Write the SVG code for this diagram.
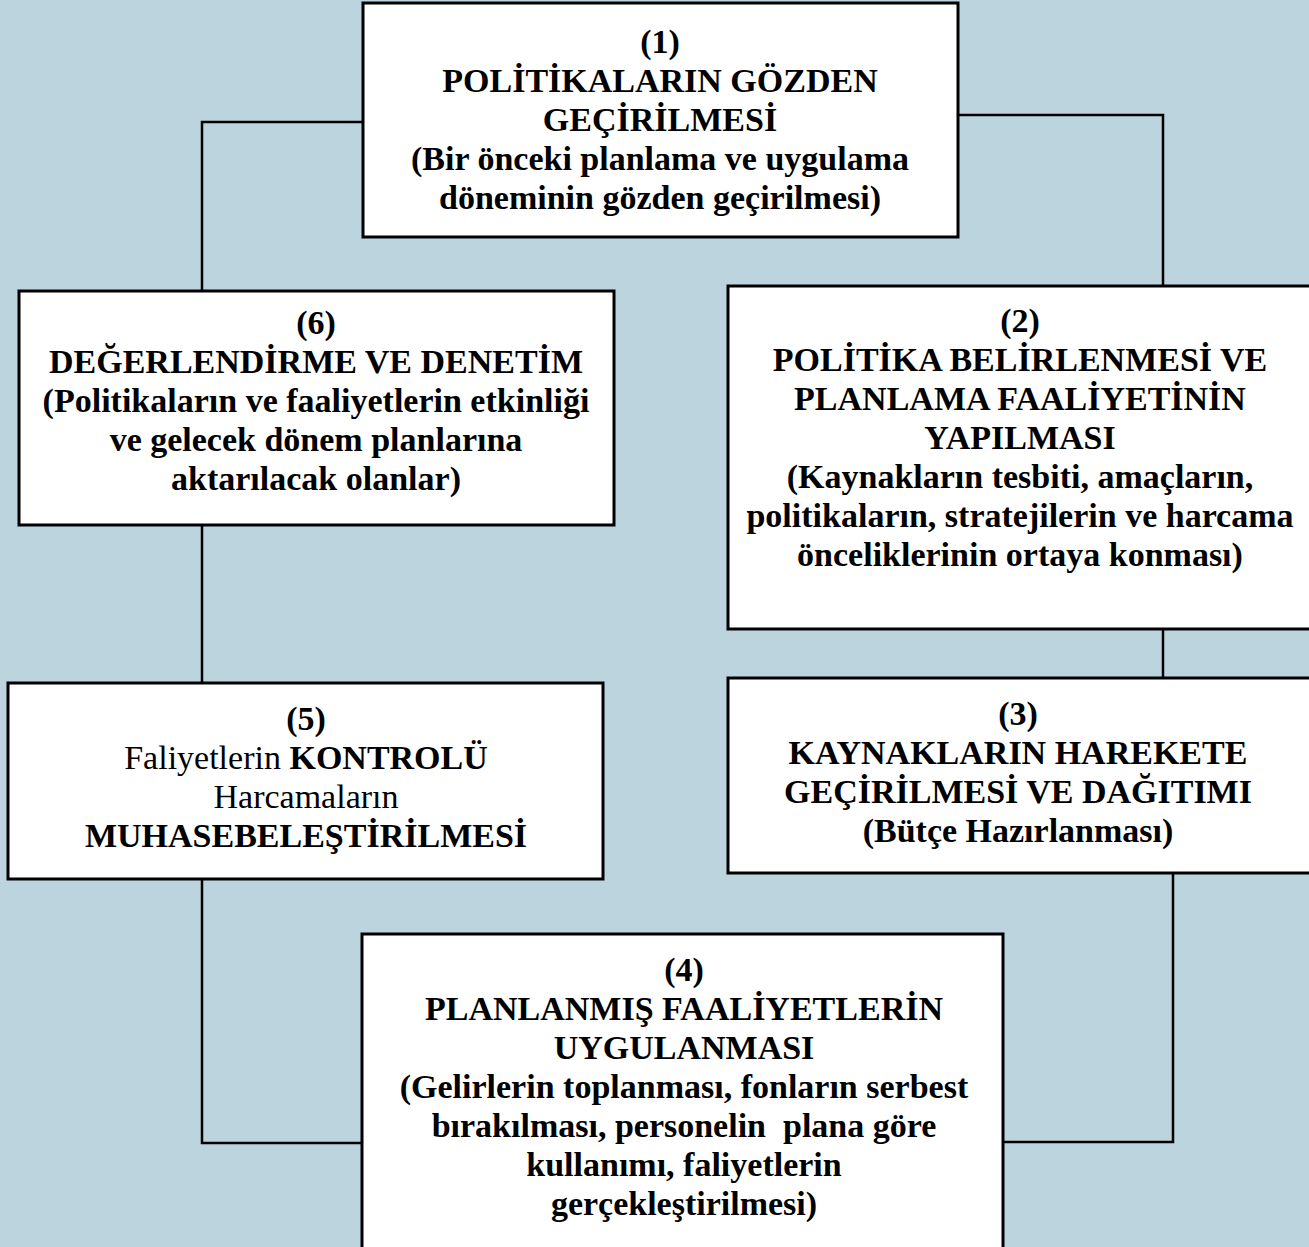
<svg xmlns="http://www.w3.org/2000/svg" width="1309" height="1247" viewBox="0 0 1309 1247">
  <style>
    .bg { fill: #BCD4DE; }
    .box { fill: #FFFFFF; stroke: #000000; stroke-width: 3; }
    .link { fill: none; stroke: #000000; stroke-width: 2.5; }
    .t { font-family: "Liberation Serif", "Times New Roman", serif; font-size: 34px; font-weight: bold; fill: #000000; text-anchor: middle; white-space: pre; }
    .n { font-weight: normal; }
  </style>

  <rect class="bg" x="0" y="0" width="1309" height="1247"/>

  <!-- connectors between the stages of the cycle -->
  <g id="connectors">
    <path class="link" d="M363,122 H202 V290"/>
    <path class="link" d="M958,115 H1163 V286"/>
    <path class="link" d="M202,525 V683"/>
    <path class="link" d="M1163,629 V678"/>
    <path class="link" d="M202,879 V1143 H362"/>
    <path class="link" d="M1173,873 V1142 H1003"/>
  </g>

  <g id="node1">
    <rect class="box" x="363" y="3" width="595" height="234"/>
    <text class="t" x="660" y="53">(1)</text>
    <text class="t" x="660" y="92">POLİTİKALARIN GÖZDEN</text>
    <text class="t" x="660" y="131">GEÇİRİLMESİ</text>
    <text class="t" x="660" y="170">(Bir önceki planlama ve uygulama</text>
    <text class="t" x="660" y="209">döneminin gözden geçirilmesi)</text>
  </g>

  <g id="node2">
    <rect class="box" x="728" y="286" width="600" height="343"/>
    <text class="t" x="1020" y="332">(2)</text>
    <text class="t" x="1020" y="371">POLİTİKA BELİRLENMESİ VE</text>
    <text class="t" x="1020" y="410">PLANLAMA FAALİYETİNİN</text>
    <text class="t" x="1020" y="449">YAPILMASI</text>
    <text class="t" x="1020" y="488">(Kaynakların tesbiti, amaçların,</text>
    <text class="t" x="1020" y="527">politikaların, stratejilerin ve harcama</text>
    <text class="t" x="1020" y="566">önceliklerinin ortaya konması)</text>
  </g>

  <g id="node3">
    <rect class="box" x="728" y="678" width="600" height="195"/>
    <text class="t" x="1018" y="725">(3)</text>
    <text class="t" x="1018" y="764">KAYNAKLARIN HAREKETE</text>
    <text class="t" x="1018" y="803">GEÇİRİLMESİ VE DAĞITIMI</text>
    <text class="t" x="1018" y="842">(Bütçe Hazırlanması)</text>
  </g>

  <g id="node4">
    <rect class="box" x="362" y="934" width="641" height="330"/>
    <text class="t" x="684" y="981">(4)</text>
    <text class="t" x="684" y="1020">PLANLANMIŞ FAALİYETLERİN</text>
    <text class="t" x="684" y="1059">UYGULANMASI</text>
    <text class="t" x="684" y="1098">(Gelirlerin toplanması, fonların serbest</text>
    <text class="t" x="684" y="1137">bırakılması, personelin  plana göre</text>
    <text class="t" x="684" y="1176">kullanımı, faliyetlerin</text>
    <text class="t" x="684" y="1215">gerçekleştirilmesi)</text>
  </g>

  <g id="node5">
    <rect class="box" x="8" y="683" width="595" height="196"/>
    <text class="t" x="306" y="730">(5)</text>
    <text class="t" x="306" y="769"><tspan class="n">Faliyetlerin </tspan>KONTROLÜ</text>
    <text class="t n" x="306" y="808">Harcamaların</text>
    <text class="t" x="306" y="847">MUHASEBELEŞTİRİLMESİ</text>
  </g>

  <g id="node6">
    <rect class="box" x="19" y="291" width="595" height="234"/>
    <text class="t" x="316" y="334">(6)</text>
    <text class="t" x="316" y="373">DEĞERLENDİRME VE DENETİM</text>
    <text class="t" x="316" y="412">(Politikaların ve faaliyetlerin etkinliği</text>
    <text class="t" x="316" y="451">ve gelecek dönem planlarına</text>
    <text class="t" x="316" y="490">aktarılacak olanlar)</text>
  </g>
</svg>
